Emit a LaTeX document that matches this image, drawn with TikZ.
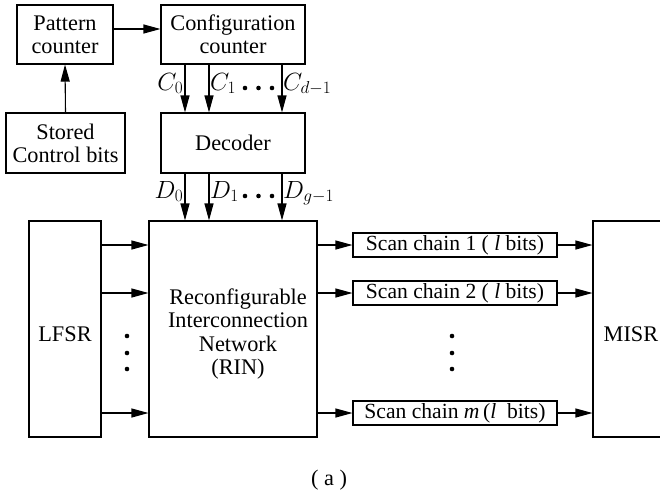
\documentclass[tikz,border=0pt]{standalone}
\usepackage[no-math]{fontspec}
\setmainfont{Liberation Serif}
\usetikzlibrary{arrows.meta}
\begin{document}
\begin{tikzpicture}[x=1pt,y=-1pt,
  every node/.style={font=\fontsize{22.3}{23.2}\selectfont},
  blk/.style={draw,line width=1.1pt,inner sep=0pt,align=center},
  chain/.style={blk,minimum width=204,minimum height=24,
    font=\fontsize{21.6}{23.2}\selectfont},
  lbl/.style={inner sep=0pt,align=center},
  mlbl/.style={inner sep=0pt,font=\fontsize{24.5}{28}\selectfont},
  wire/.style={line width=1.1pt,-{Triangle[length=17pt,width=9pt]}},
  dot/.style={fill=black,circle,inner sep=0pt,minimum size=4.6pt}]
\clip (0,0) rectangle (660,496);
% control path
\node[blk,minimum width=96,minimum height=59] (pat) at (65,34.5) {Pattern\\counter};
\node[blk,minimum width=144,minimum height=59] (conf) at (233,34.5) {Configuration\\counter};
\node[blk,minimum width=119,minimum height=60] (stored) at (65.5,143) {Stored\\Control bits};
\node[blk,minimum width=144,minimum height=60] (dec) at (233,143) {Decoder};
% data path
\node[blk,minimum width=72,minimum height=216] (lfsr) at (65,329) {};
\node[lbl] (lfsrtxt) at (65,334.5) {LFSR};
\node[blk,minimum width=168,minimum height=216] (rin) at (233,329) {};
\node[lbl] (rintxt) at (238,334) {Reconfigurable\\Interconnection\\Network\\(RIN)};
\node[chain] (s1) at (455,245) {Scan chain 1 ( \textit{l} bits)};
\node[chain] (s2) at (455,293) {Scan chain 2 ( \textit{l} bits)};
\node[chain] (sm) at (455,413) {Scan chain \textit{m}\,(\textit{l}\ \ bits)};
\node[blk,minimum width=80,minimum height=216] (misr) at (633,329) {};
\node[lbl] (misrtxt) at (631,334.5) {MISR};
% control arrows
\draw[wire] ([yshift=5.5]pat.east) -- ([yshift=5.5]conf.west);
\draw[wire] (stored.north) -- (pat.south);
\coordinate (x0) at (185,0);
\coordinate (x1) at (209,0);
\coordinate (x2) at (282,0);
\foreach \k in {x0,x1,x2} {
  \draw[wire] (\k|-conf.south) -- (\k|-dec.north);
  \draw[wire] (\k|-dec.south) -- (\k|-rin.north);
}
\node[mlbl,anchor=base east] (c0) at (183.5,90) {$C_0$};
\node[mlbl,anchor=base west] (c1) at (210,90) {$C_1$};
\node[mlbl,anchor=base west] (cd) at (283,90) {$C_{d-1}$};
\node[mlbl,anchor=base east] (d0) at (183.5,198) {$D_0$};
\node[mlbl,anchor=base west] (d1) at (210,198) {$D_1$};
\node[mlbl,anchor=base west] (dg) at (283,198) {$D_{g-1}$};
\foreach \xx [count=\i] in {245,258.5,272} {
  \node[dot] (cdot\i) at (\xx,88) {};
  \node[dot] (ddot\i) at (\xx,196) {};
}
% data arrows
\foreach \s in {s1,s2,sm} {
  \draw[wire] (lfsr.east|-\s) -- (rin.west|-\s);
  \draw[wire] (rin.east|-\s) -- (\s.west);
  \draw[wire] (\s.east) -- (misr.west|-\s);
}
\foreach \yy [count=\i] in {336,353,369} {
  \node[dot] (ldot\i) at (127,\yy) {};
  \node[dot] (sdot\i) at (452,\yy) {};
}
\node[lbl] (cap) at (329,480) {( a )};
\end{tikzpicture}
\end{document}
